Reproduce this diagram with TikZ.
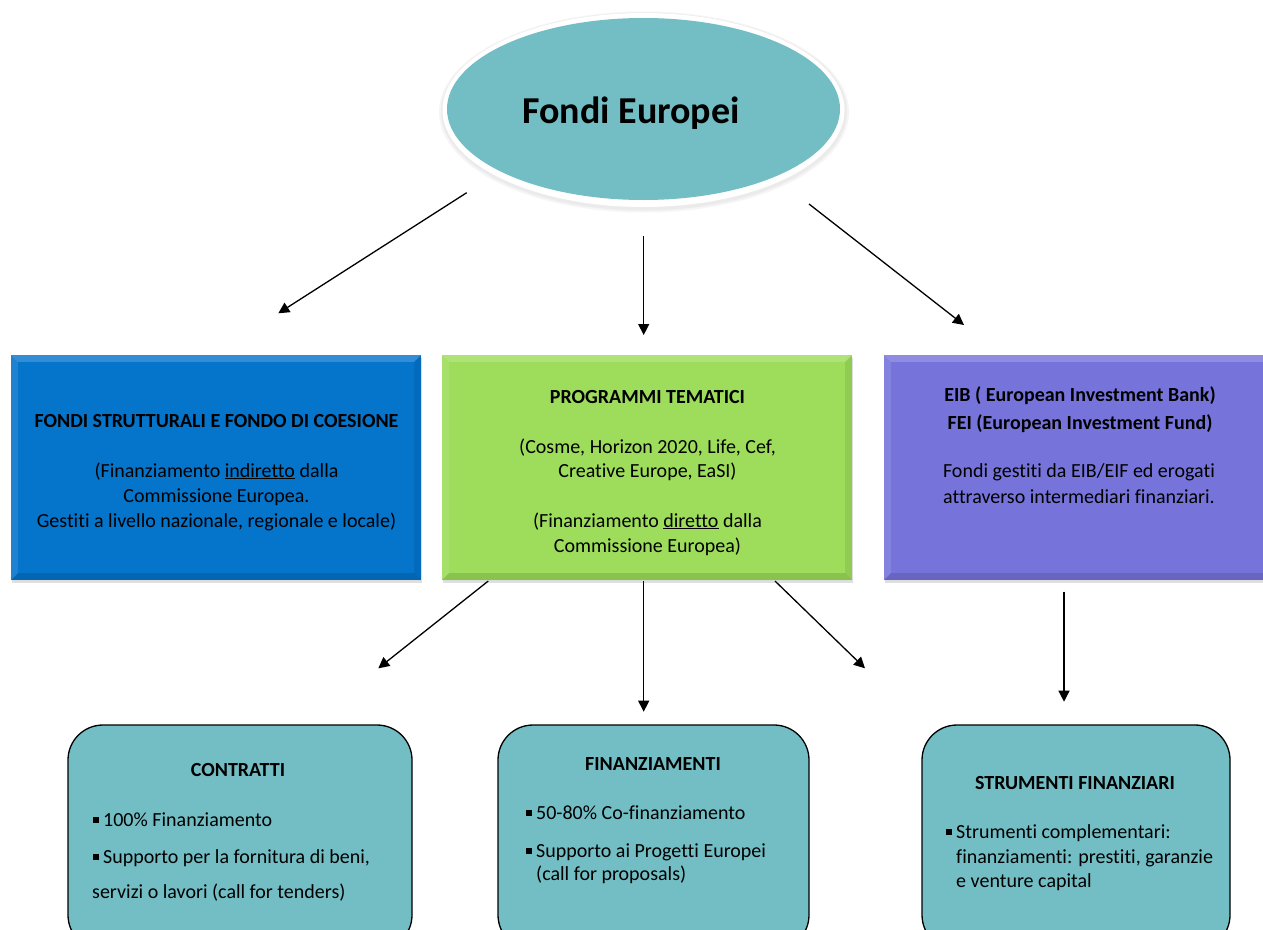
\documentclass[tikz,border=0pt]{standalone}
\usepackage{fontspec}
\setmainfont{Carlito}[Ligatures=NoCommon]
\usetikzlibrary{arrows.meta,shapes.geometric,shadows}
\definecolor{tealF}{RGB}{114,190,196}
\definecolor{blueF}{RGB}{5,116,203}
\definecolor{greenF}{RGB}{157,221,91}
\definecolor{purpleF}{RGB}{118,116,219}
\newcommand\bodyf{\fontsize{20}{24}\selectfont}
\newcommand\titf{\fontsize{20}{24}\selectfont\bfseries}
\newcommand\bsq{\rule[3.5pt]{5.5pt}{5.5pt}\hspace{4.5pt}}
\tikzset{
  sqbox/.style={rectangle, draw=none, inner sep=0pt,
    drop shadow={shadow xshift=1pt, shadow yshift=-3pt, opacity=0.25}},
  rbox/.style={rectangle, rounded corners=35pt, draw=black, line width=1.3pt,
    fill=tealF, inner sep=0pt},
  txt/.style={anchor=base, inner sep=0pt, font=\bodyf},
  ttl/.style={anchor=base, inner sep=0pt, font=\titf},
  ltxt/.style={anchor=base west, inner sep=0pt, font=\bodyf},
  arr/.style={line width=1.3pt, -{Triangle[length=11pt,width=11pt]}},
}
\newcommand\bevel[1]{%
  \fill[white,opacity=0.18] (#1.north west) -- (#1.north east) -- ([shift={(-7,7)}]#1.north east) -- ([shift={(7,7)}]#1.north west) -- cycle;
  \fill[white,opacity=0.10] (#1.north west) -- ([shift={(7,7)}]#1.north west) -- ([shift={(7,-7)}]#1.south west) -- (#1.south west) -- cycle;
  \fill[black,opacity=0.12] (#1.south west) -- (#1.south east) -- ([shift={(-7,-7)}]#1.south east) -- ([shift={(7,-7)}]#1.south west) -- cycle;
  \fill[black,opacity=0.08] (#1.north east) -- ([shift={(-7,7)}]#1.north east) -- ([shift={(-7,-7)}]#1.south east) -- (#1.south east) -- cycle;
}
\begin{document}
\begin{tikzpicture}[x=1pt,y=-1pt]
\useasboundingbox (0,0) rectangle (1263,929);
\clip (0,0) rectangle (1263,929);
\fill[white] (0,0) rectangle (1263,929);

% top ellipse
\node[ellipse, minimum width=410pt, minimum height=201pt, fill=black!4, inner sep=0pt] (feshadow2) at (644,112) {};
\node[ellipse, minimum width=406pt, minimum height=198pt, fill=black!8, inner sep=0pt] (feshadow) at (644,111.5) {};
\node[ellipse, minimum width=402pt, minimum height=194pt, fill=white, inner sep=0pt] (feouter) at (643.5,110) {};
\node[ellipse, minimum width=393pt, minimum height=182pt, fill=tealF, inner sep=0pt] (fe) at (643.5,109) {};
\node[anchor=base, inner sep=0pt, font=\fontsize{38}{44}\selectfont\bfseries] (fetxt) at (631,123) {Fondi Europei};

% middle boxes
\node[sqbox, fill=blueF, minimum width=410pt, minimum height=225pt] (fs) at (216,467.5) {};
\bevel{fs}
\node[sqbox, fill=greenF, minimum width=410pt, minimum height=225pt] (pt) at (647,467.5) {};
\bevel{pt}
\node[sqbox, fill=purpleF, minimum width=392pt, minimum height=225pt] (eib) at (1080,467.5) {};
\bevel{eib}

\node[ttl] (fs0) at (216.5,427) {FONDI STRUTTURALI E FONDO DI COESIONE};
\node[txt] (fs1) at (216.5,477) {(Finanziamento \underline{indiretto} dalla};
\node[txt] (fs2) at (216.5,502) {Commissione Europea.};
\node[txt] (fs3) at (216.5,527) {Gestiti a livello nazionale, regionale e locale)};

\node[ttl] (pt0) at (647.5,403) {PROGRAMMI TEMATICI};
\node[txt] (pt1) at (647.5,453) {(Cosme, Horizon 2020, Life, Cef,};
\node[txt] (pt2) at (647.5,477) {Creative Europe, EaSI)};
\node[txt] (pt3) at (647.5,527) {(Finanziamento \underline{diretto} dalla};
\node[txt] (pt4) at (647.5,552) {Commissione Europea)};

\node[ttl] (eib0) at (1080,401) {EIB ( European Investment Bank)};
\node[ttl] (eib1) at (1080,429) {FEI (European Investment Fund)};
\node[txt] (eib2) at (1079,477) {Fondi gestiti da EIB/EIF ed erogati};
\node[txt] (eib3) at (1079,503) {attraverso intermediari finanziari.};

% bottom boxes
\node[rbox, minimum width=344pt, minimum height=225pt] (ct) at (240,837.5) {};
\node[rbox, minimum width=311pt, minimum height=225pt] (fin) at (653.5,837.5) {};
\node[rbox, minimum width=308pt, minimum height=225pt] (sf) at (1076,837.5) {};

\node[ttl] (ct0) at (238,776) {CONTRATTI};
\node[ltxt] (ct1) at (93,826) {\bsq 100\% Finanziamento};
\node[ltxt] (ct2) at (93,863) {\bsq Supporto per la fornitura di beni,};
\node[ltxt] (ct3) at (92,898) {servizi o lavori (call for tenders)};

\node[ttl] (fin0) at (653,770) {FINANZIAMENTI};
\node[ltxt] (fin1) at (526,819) {\bsq 50-80\% Co-finanziamento};
\node[ltxt] (fin2) at (526,857) {\bsq Supporto ai Progetti Europei};
\node[ltxt] (fin3) at (536,880) {(call for proposals)};

\node[ttl] (sf0) at (1075,789) {STRUMENTI FINANZIARI};
\node[ltxt] (sf1) at (946,838) {\bsq Strumenti complementari:};
\node[ltxt] (sf2) at (956,863) {finanziamenti: prestiti, garanzie};
\node[ltxt] (sf3) at (956,887) {e venture capital};

% arrows
\coordinate (a1s) at (466.7,192.7); \coordinate (a1e) at (278.3,313.3);
\coordinate (a2s) at (643.7,236);   \coordinate (a2e) at (643.7,335);
\coordinate (a3s) at (809,204);     \coordinate (a3e) at (964,325);
\coordinate (b1s) at (488.3,581);   \coordinate (b1e) at (378.3,668.3);
\coordinate (b2s) at (643.7,581);   \coordinate (b2e) at (643.7,711.7);
\coordinate (b3s) at (775,581);     \coordinate (b3e) at (865,668.3);
\coordinate (c1s) at (1064,591.7);  \coordinate (c1e) at (1064,701.7);
\draw[arr] (a1s) -- (a1e);
\draw[arr] (a2s) -- (a2e);
\draw[arr] (a3s) -- (a3e);
\draw[arr] (b1s) -- (b1e);
\draw[arr] (b2s) -- (b2e);
\draw[arr] (b3s) -- (b3e);
\draw[arr] (c1s) -- (c1e);
\end{tikzpicture}
\end{document}
